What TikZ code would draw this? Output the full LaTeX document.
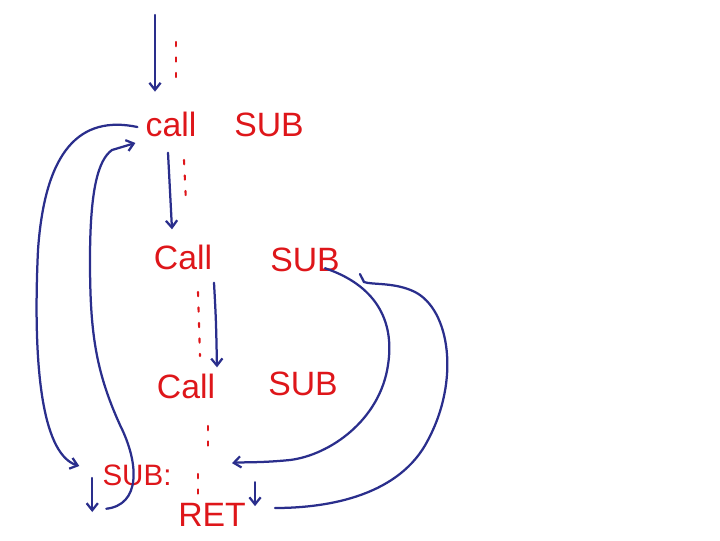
\documentclass[tikz,border=0pt]{standalone}
\usepackage{fontspec}
\setmainfont{Liberation Sans}
\usetikzlibrary{arrows.meta,calc}
\definecolor{penred}{RGB}{222,22,26}
\definecolor{penblue}{RGB}{42,46,140}

\begin{document}
\begin{tikzpicture}[x=0.025cm,y=-0.025cm,
  every path/.style={>={Straight Barb[length=5pt,width=8pt]}},
  every node/.style={text=penred,inner sep=0pt,font=\fontsize{24}{28}\selectfont},
  flow/.style={draw=penblue,line width=1.6pt,line cap=round},
  skip/.style={draw=penred,line width=1.5pt,dash pattern=on 3pt off 8pt,line cap=round}]
\useasboundingbox (0,0) rectangle (720,540);
\node            (call1) at (171,124) {call};
\node            (sub1)  at (269,125) {SUB};
\node            (call2) at (183,257) {Call};
\node            (sub2)  at (305,260) {SUB};
\node            (call3) at (186,386) {Call};
\node            (sub3)  at (303,384) {SUB};
\node[font=\fontsize{21}{25}\selectfont] (subl) at (137,475) {SUB:};
\node            (ret)   at (212,515) {RET};
\coordinate      (start) at (155,15);
% dotted gaps
\draw[skip]  (176,42) -- (176,80);
\draw[skip]  (184,160) -- (186,202);
\draw[skip]  (198,292) -- (200,356);
\draw[skip]  (208,426) -- (208,446);
\draw[skip]  (198,474) -- (198,496);
% straight flow
\draw[flow,->]  (start) -- (start |- call1.north) [shorten >=14pt];
\draw[flow,->]  ($(call1.south)+(-3,16)$) -- ($(call2.north)+(-11,-15)$);
\draw[flow,->]  ($(call2.south)+(31,13)$) .. controls ($(call2.south)+(33,50)$) .. ($(call3.north)+(31,-6)$);
\draw[flow,->]  ($(subl.west)+(-10,3)$) -- ++(0,34);
\draw[flow,->]  ($(ret.north east)+(9,-21)$) -- ++(0,24);
% jumps
\draw[flow,->]  ($(call1.west)+(-8,3)$) .. controls (80,115) and (45,150) .. (38,250)
                .. controls (32,380) and (45,455) .. ($(subl.west)+(-23,-9)$);
\draw[flow,->]  ($(subl.south west)+(4,23)$) .. controls (140,505) and (140,465) .. (120,425)
                .. controls (95,370) and (90,330) .. (90,260)
                .. controls (90,190) and (98,160) .. (112,150) -- ($(call1.west)+(-10,19)$);
\draw[flow,->]  ($(sub2.south east)+(-15,-4)$) .. controls (375,285) and (395,320) .. (388,365)
                .. controls (380,420) and (330,455) .. (290,460)
                .. controls (260,463) and (240,462) .. ($(ret.north)+(20,-40)$);
\draw[flow]     ($(ret.east)+(29,-7)$) .. controls (330,508) and (400,495) .. (428,440)
                .. controls (460,380) and (450,310) .. (415,292)
                .. controls (395,282) and (372,285) .. (364,282) -- ($(sub2.east)+(20,14)$);
\end{tikzpicture}
\end{document}
